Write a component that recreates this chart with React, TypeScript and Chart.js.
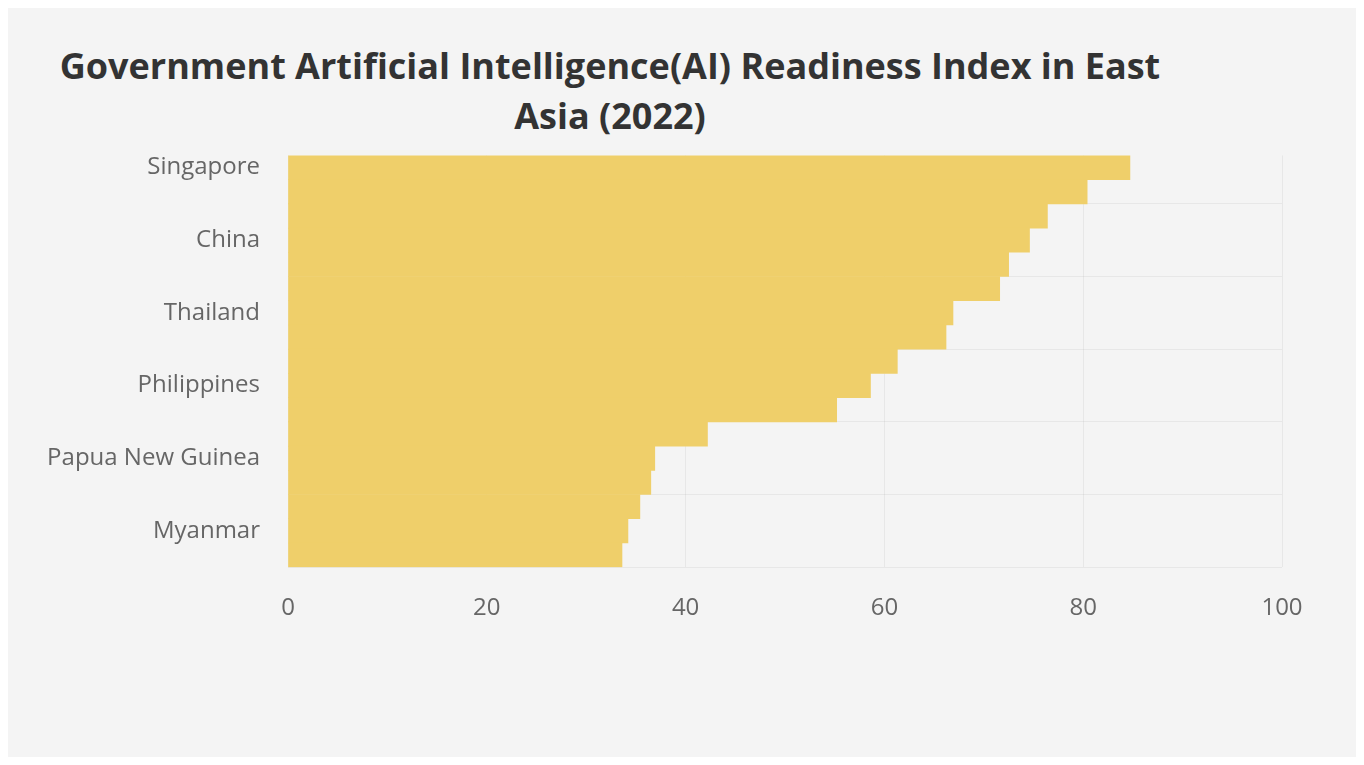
import Chart from 'chart.js/auto'
import { useEffect, useRef } from 'react'

const countries = [
  'Singapore',
  'South Korea',
  'Japan',
  'China',
  'Malaysia',
  'Indonesia',
  'Thailand',
  'Vietnam',
  'Brunei',
  'Philippines',
  'Mongolia',
  'Cambodia',
  'Papua New Guinea',
  'Laos',
  'Timor-Leste',
  'Myanmar',
  'North Korea',
]
const scores = [84.7, 80.4, 76.4, 74.6, 72.5, 71.6, 66.9, 66.2, 61.3, 58.6, 55.2, 42.2, 36.9, 36.5, 35.4, 34.2, 33.6]
const xTicks = [0, 20, 40, 60, 80, 100]

const titleLines = ['Government Artificial Intelligence(AI) Readiness Index in East', 'Asia (2022)']

const ReadinessChart = () => {
  const canvasRef = useRef<HTMLCanvasElement>(null)
  const chartRef = useRef<Chart | null>(null)

  useEffect(() => {
    if (canvasRef.current) {
      chartRef.current = new Chart(canvasRef.current, {
        type: 'bar',
        data: {
          labels: countries,
          datasets: [
            {
              label: 'Readiness Index',
              data: scores,
              backgroundColor: '#efcf6a',
              borderWidth: 0,
              barPercentage: 1,
              categoryPercentage: 1,
            },
          ],
        },
        options: {
          indexAxis: 'y',
          animation: false,
          responsive: true,
          maintainAspectRatio: false,
          layout: { padding: { top: 0, right: 74, bottom: 23, left: 10 } },
          scales: {
            x: {
              min: xTicks[0],
              max: xTicks[xTicks.length - 1],
              ticks: {
                stepSize: 20,
                color: '#666',
                padding: 27,
                font: { family: 'Open Sans', size: 24 },
              },
              grid: { color: 'rgba(0,0,0,0.05)', drawTicks: false },
              border: { display: false },
            },
            y: {
              ticks: {
                color: '#666',
                padding: 28,
                autoSkipPadding: 25,
                font: { family: 'Open Sans', size: 24 },
              },
              grid: { color: 'rgba(0,0,0,0.05)', drawTicks: false },
              border: { display: false },
              afterFit: (scale) => {
                scale.width = 270
              },
            },
          },
          plugins: {
            legend: { display: false },
            tooltip: { enabled: false },
          },
        },
      })
    }
    return () => {
      if (chartRef.current) {
        chartRef.current.destroy()
      }
    }
  }, [])

  return (
    <div
      style={{
        position: 'relative',
        width: 1348,
        height: 749,
        background: '#f4f4f4',
        fontFamily: '"Open Sans", sans-serif',
      }}
    >
      <div
        style={{
          position: 'absolute',
          left: 0,
          top: 33,
          width: 1204,
          textAlign: 'center',
          fontSize: 36,
          fontWeight: 700,
          lineHeight: '50px',
          color: '#333',
        }}
      >
        {titleLines.map((line) => (
          <div key={line}>{line}</div>
        ))}
      </div>
      <div style={{ position: 'absolute', left: 0, top: 105, width: 1348, height: 560 }}>
        <canvas ref={canvasRef}></canvas>
      </div>
    </div>
  )
}

export default function App() {
  return <ReadinessChart />
}
